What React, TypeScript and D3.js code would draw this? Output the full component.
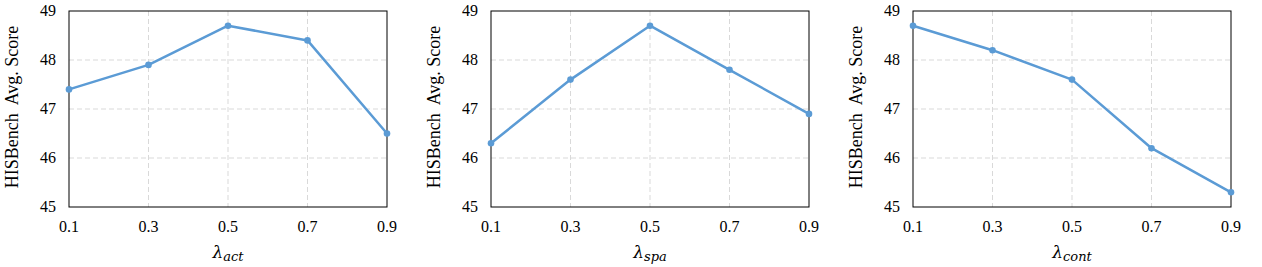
import React from "react";
import * as d3 from "d3";

const lambdas = [0.1, 0.3, 0.5, 0.7, 0.9];
const actScores = [47.4, 47.9, 48.7, 48.4, 46.5];
const spaScores = [46.3, 47.6, 48.7, 47.8, 46.9];
const contScores = [48.7, 48.2, 47.6, 46.2, 45.3];
const yTicks = [45, 46, 47, 48, 49];
const subscripts = ["act", "spa", "cont"];

const panels = [
  { left: 69, values: actScores, sub: subscripts[0] },
  { left: 491, values: spaScores, sub: subscripts[1] },
  { left: 913, values: contScores, sub: subscripts[2] },
];

const width = 1262;
const height = 267;
const plotW = 318;
const top = 11;
const bottom = 207;
const blue = "#5B9BD5";
const font = "Liberation Serif";

const Panel = ({ left, values, sub }: { left: number; values: number[]; sub: string }) => {
  const x = d3.scaleLinear().domain([0.1, 0.9]).range([left, left + plotW]);
  const y = d3.scaleLinear().domain([45, 49]).range([bottom, top]);
  const line = d3
    .line<number>()
    .x((_, i) => x(lambdas[i]))
    .y((d) => y(d));

  return (
    <g>
      {/* grid */}
      {yTicks.slice(1, -1).map((t) => (
        <line key={"h" + t} x1={left} x2={left + plotW} y1={y(t)} y2={y(t)}
          stroke="#d9d9d9" strokeDasharray="5,3" strokeWidth={1} />
      ))}
      {lambdas.slice(1, -1).map((t) => (
        <line key={"v" + t} x1={x(t)} x2={x(t)} y1={top} y2={bottom}
          stroke="#d9d9d9" strokeDasharray="5,3" strokeWidth={1} />
      ))}
      <rect x={left} y={top} width={plotW} height={bottom - top} fill="none" stroke="#000" strokeWidth={1} />
      <path d={line(values)!} fill="none" stroke={blue} strokeWidth={2.5} strokeLinejoin="round" />
      {values.map((v, i) => (
        <circle key={i} cx={x(lambdas[i])} cy={y(v)} r={3.3} fill={blue} />
      ))}
      {/* y ticks */}
      {yTicks.map((t) => (
        <text key={"yt" + t} x={left - 13} y={y(t)} dy="0.33em" textAnchor="end"
          fontFamily={font} fontSize={16} fill="#000">{t}</text>
      ))}
      {/* x ticks */}
      {lambdas.map((t) => (
        <text key={"xt" + t} x={x(t)} y={227} dy="0.33em" textAnchor="middle"
          fontFamily={font} fontSize={16} fill="#000">{t.toFixed(1)}</text>
      ))}
      <text transform={`translate(${left - 51},${(top + bottom) / 2 - 2}) rotate(-90)`} textAnchor="middle"
        fontFamily={font} fontSize={18} fill="#000" xmlSpace="preserve">HISBench  Avg. Score</text>
      <text x={x(0.5)} y={258} textAnchor="middle" fontFamily="DejaVu Serif" fill="#000">
        <tspan fontStyle="italic" fontSize={17}>λ</tspan>
        <tspan fontStyle="italic" fontSize={13} dy={3}>{sub}</tspan>
      </text>
    </g>
  );
};

export default function App() {
  return (
    <svg width={width} height={height} style={{ position: "absolute", left: 0, top: 0, background: "#fff" }}>
      {panels.map((p) => (
        <Panel key={p.sub} left={p.left} values={p.values} sub={p.sub} />
      ))}
    </svg>
  );
}
